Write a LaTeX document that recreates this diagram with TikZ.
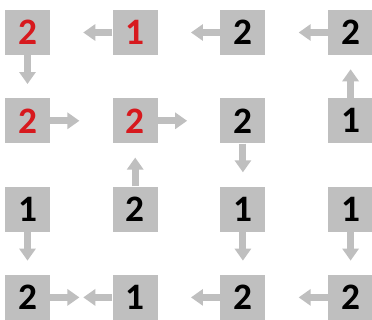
\documentclass[tikz,border=0pt]{standalone}
\usepackage{fontspec}
\setmainfont{Carlito}
\usetikzlibrary{arrows.meta}
\definecolor{cellgray}{RGB}{191,191,191}
\definecolor{numred}{RGB}{215,25,30}

\begin{document}
\begin{tikzpicture}[x=0.75pt,y=-0.75pt,
  cell/.style={fill=cellgray,minimum size=33.75pt,inner sep=0pt,
    font=\fontsize{28}{28}\selectfont\bfseries},
  flow/.style={draw=cellgray,line width=5.25pt,-{Triangle[width=12pt,length=9pt]}}]
\useasboundingbox (0,0) rectangle (372,320);
% cells: row/column/number/colour
\foreach \r/\c/\n/\tc in {1/1/2/numred, 1/2/1/numred, 1/3/2/black, 1/4/2/black,
                          2/1/2/numred, 2/2/2/numred, 2/3/2/black, 2/4/1/black,
                          3/1/1/black, 3/2/2/black, 3/3/1/black, 3/4/1/black,
                          4/1/2/black, 4/2/1/black, 4/3/2/black, 4/4/2/black}
  \node[cell,text=\tc] (s\r\c) at ({27.5+107.7*(\c-1)},{32.5+88.3*(\r-1)}) {\n};
% horizontal flows
\foreach \a/\b in {s12/s11, s13/s12, s14/s13, s21/s22, s22/s23,
                   s41/s42, s42/s41, s43/s42, s44/s43}
  \draw[flow,shorten >=24.75pt] (\a) -- (\b);
% vertical flows
\foreach \a/\b in {s11/s21, s23/s33, s24/s14, s32/s22,
                   s31/s41, s33/s43, s34/s44}
  \draw[flow,shorten >=10.5pt] (\a) -- (\b);
\end{tikzpicture}
\end{document}
